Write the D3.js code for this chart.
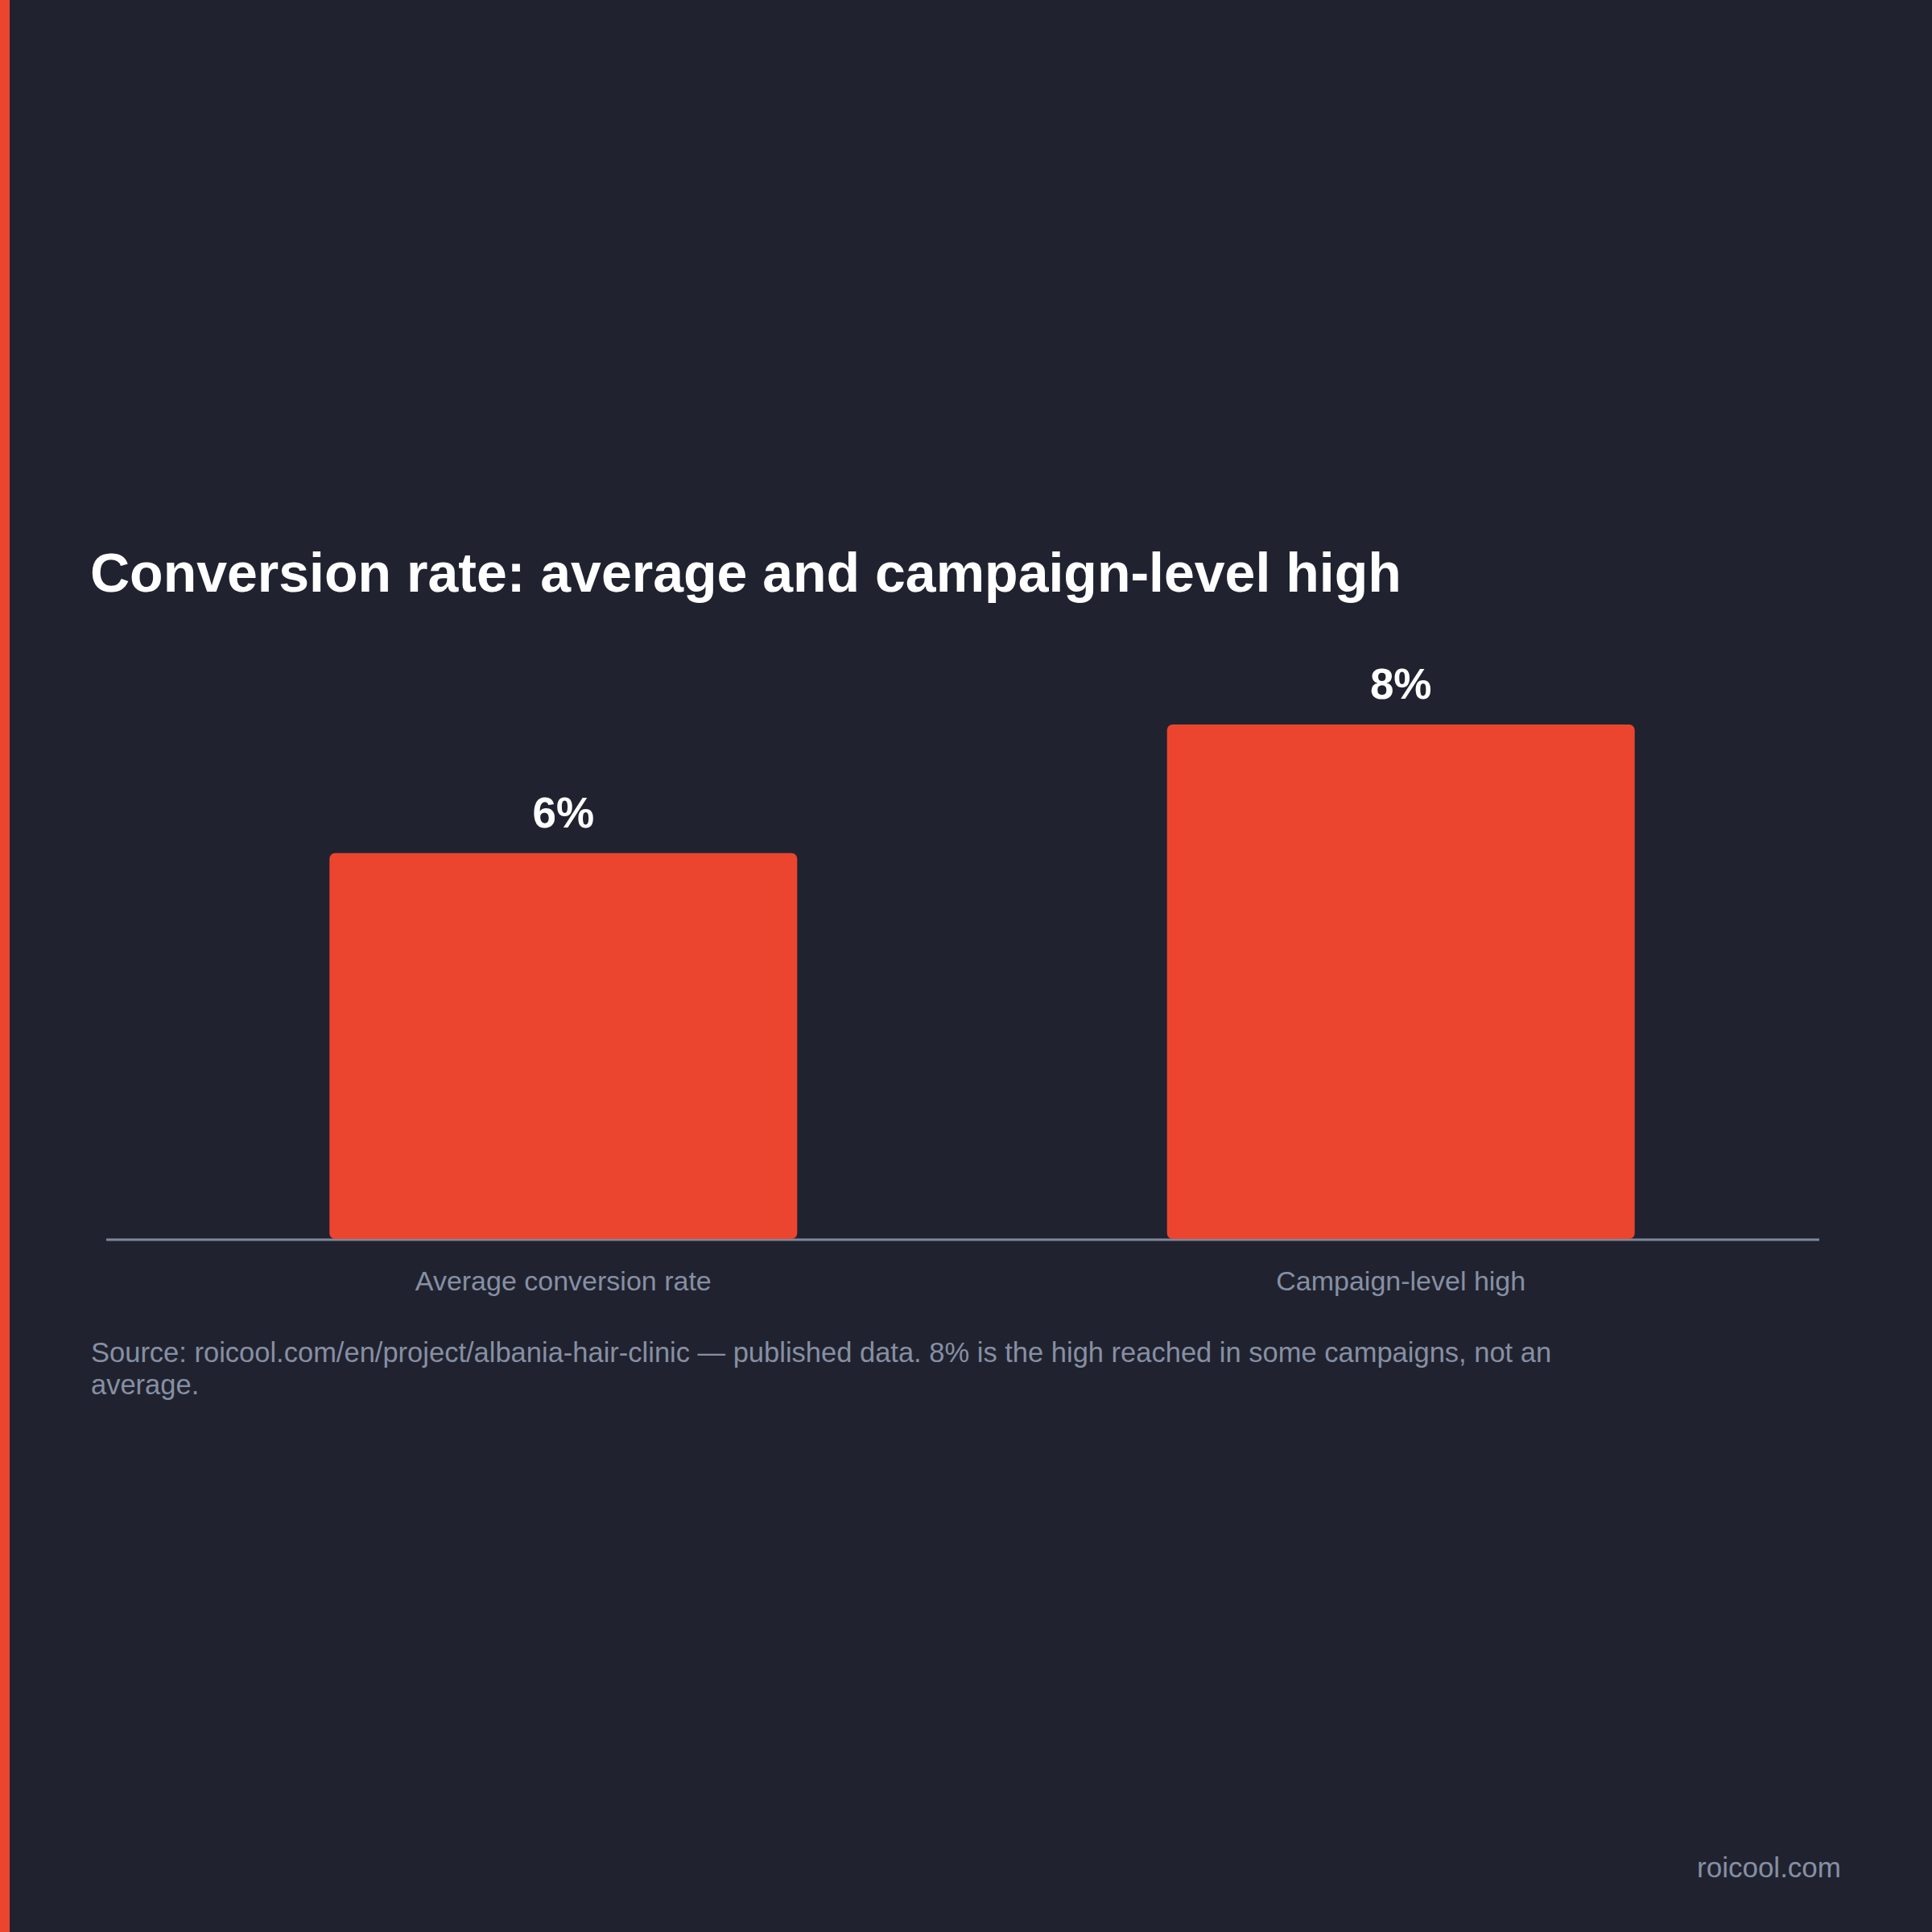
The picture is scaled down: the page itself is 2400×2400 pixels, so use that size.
<!DOCTYPE html>
<html>
<head>
<meta charset="utf-8">
<script src="https://cdn.jsdelivr.net/npm/d3@7"></script>
<style>
  html, body { margin: 0; padding: 0; background: #20232f; }
  svg { display: block; }
</style>
</head>
<body>
<script>
// ---- data ----
const categories = ["Average conversion rate", "Campaign-level high"];
const values = [6, 8];
const valueLabels = ["6%", "8%"];
const titleText = "Conversion rate: average and campaign-level high";
const sourceLines = [
  "Source: roicool.com/en/project/albania-hair-clinic \u2014 published data. 8% is the high reached in some campaigns, not an",
  "average."
];
const brandText = "roicool.com";

// ---- layout ----
const W = 2400, H = 2400;
const FONT = "'Liberation Sans', Arial, Helvetica, sans-serif";
const BG = "#20232f", RED = "#ec452f", MUTED = "#878fa4", AXIS = "#7f879b";

const svg = d3.select("body").append("svg")
  .attr("width", W).attr("height", H)
  .attr("viewBox", `0 0 ${W} ${H}`);

svg.append("rect").attr("width", W).attr("height", H).attr("fill", BG);
svg.append("rect").attr("x", 0).attr("y", 0).attr("width", 12).attr("height", H).attr("fill", RED);

// title
svg.append("text")
  .attr("x", 112).attr("y", 735)
  .attr("fill", "#ffffff")
  .attr("font-family", FONT).attr("font-weight", 700).attr("font-size", 68)
  .text(titleText);

const baseY = 1539;
const x = d3.scaleBand()
  .domain(categories)
  .range([180, 2260])
  .paddingInner(0.4416)
  .paddingOuter(0.2204);

const y = d3.scaleLinear()
  .domain([0, d3.max(values)])
  .range([baseY, 900]);

const data = categories.map((c, i) => ({ c, v: values[i], label: valueLabels[i] }));

// axis baseline
svg.append("line")
  .attr("x1", 132).attr("x2", 2260)
  .attr("y1", baseY + 1).attr("y2", baseY + 1)
  .attr("stroke", AXIS).attr("stroke-width", 3);

// bars
svg.append("g").selectAll("rect").data(data).join("rect")
  .attr("x", d => x(d.c))
  .attr("y", d => y(d.v))
  .attr("width", x.bandwidth())
  .attr("height", d => baseY - y(d.v))
  .attr("rx", 7).attr("ry", 7)
  .attr("fill", RED);

// value labels
svg.append("g").selectAll("text").data(data).join("text")
  .attr("x", d => x(d.c) + x.bandwidth() / 2)
  .attr("y", d => y(d.v) - 32)
  .attr("text-anchor", "middle")
  .attr("fill", "#ffffff")
  .attr("font-family", FONT).attr("font-weight", 700).attr("font-size", 53)
  .text(d => d.label);

// category axis labels
const xAxis = d3.axisBottom(x).tickSize(0).tickPadding(0);
const gx = svg.append("g").attr("transform", `translate(0, ${baseY})`).call(xAxis);
gx.select(".domain").remove();
gx.selectAll("text")
  .attr("y", 64).attr("dy", null)
  .attr("fill", MUTED)
  .attr("font-family", FONT).attr("font-size", 34);

// source note
const src = svg.append("text")
  .attr("x", 113).attr("y", 1692)
  .attr("fill", MUTED)
  .attr("font-family", FONT).attr("font-size", 34.5);
src.selectAll("tspan").data(sourceLines).join("tspan")
  .attr("x", 113)
  .attr("dy", (d, i) => i === 0 ? 0 : 40)
  .text(d => d);

// brand
svg.append("text")
  .attr("x", 2287).attr("y", 2332)
  .attr("text-anchor", "end")
  .attr("fill", MUTED)
  .attr("font-family", FONT).attr("font-size", 35)
  .text(brandText);
</script>
</body>
</html>
